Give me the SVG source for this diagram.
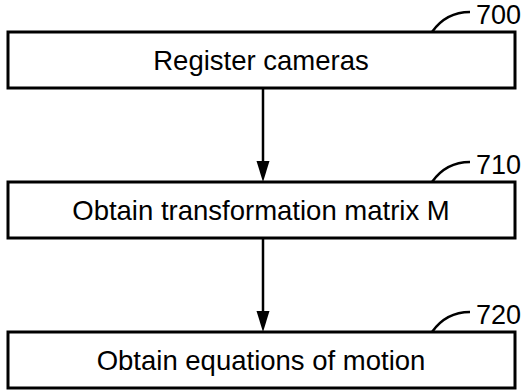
<svg xmlns="http://www.w3.org/2000/svg" width="523" height="390" viewBox="0 0 523 390">
<style>
.box{fill:#fff;stroke:#000;stroke-width:3}
.t{font-family:"Liberation Sans",Arial,sans-serif;font-size:27.5px;fill:#000;text-anchor:middle}
.ref{font-family:"Liberation Sans",Arial,sans-serif;font-size:27px;fill:#000}
.lead{fill:none;stroke:#000;stroke-width:2.5}
.conn{stroke:#000;stroke-width:2.5}
.head{fill:#000}
</style>
<rect width="523" height="390" fill="#fff"/>
<g id="connectors">
<line class="conn" x1="263" y1="88" x2="263" y2="164"/>
<polygon class="head" points="256.5,161 269.5,161 263,182"/>
<line class="conn" x1="263" y1="238" x2="263" y2="314"/>
<polygon class="head" points="256.5,311 269.5,311 263,332"/>
</g>
<g id="n700">
<rect class="box" x="8" y="32" width="507" height="56"/>
<text class="t" x="261" y="70">Register cameras</text>
<path class="lead" d="M432,32 Q446,12 470,12"/>
<text class="ref" x="476" y="24">700</text>
</g>
<g id="n710">
<rect class="box" x="8" y="182" width="507" height="56"/>
<text class="t" x="261" y="220">Obtain transformation matrix M</text>
<path class="lead" d="M432,182 Q446,162 470,162"/>
<text class="ref" x="476" y="174">710</text>
</g>
<g id="n720">
<rect class="box" x="8" y="332" width="507" height="56"/>
<text class="t" x="261" y="370">Obtain equations of motion</text>
<path class="lead" d="M432,332 Q446,312 470,312"/>
<text class="ref" x="476" y="324">720</text>
</g>
</svg>
